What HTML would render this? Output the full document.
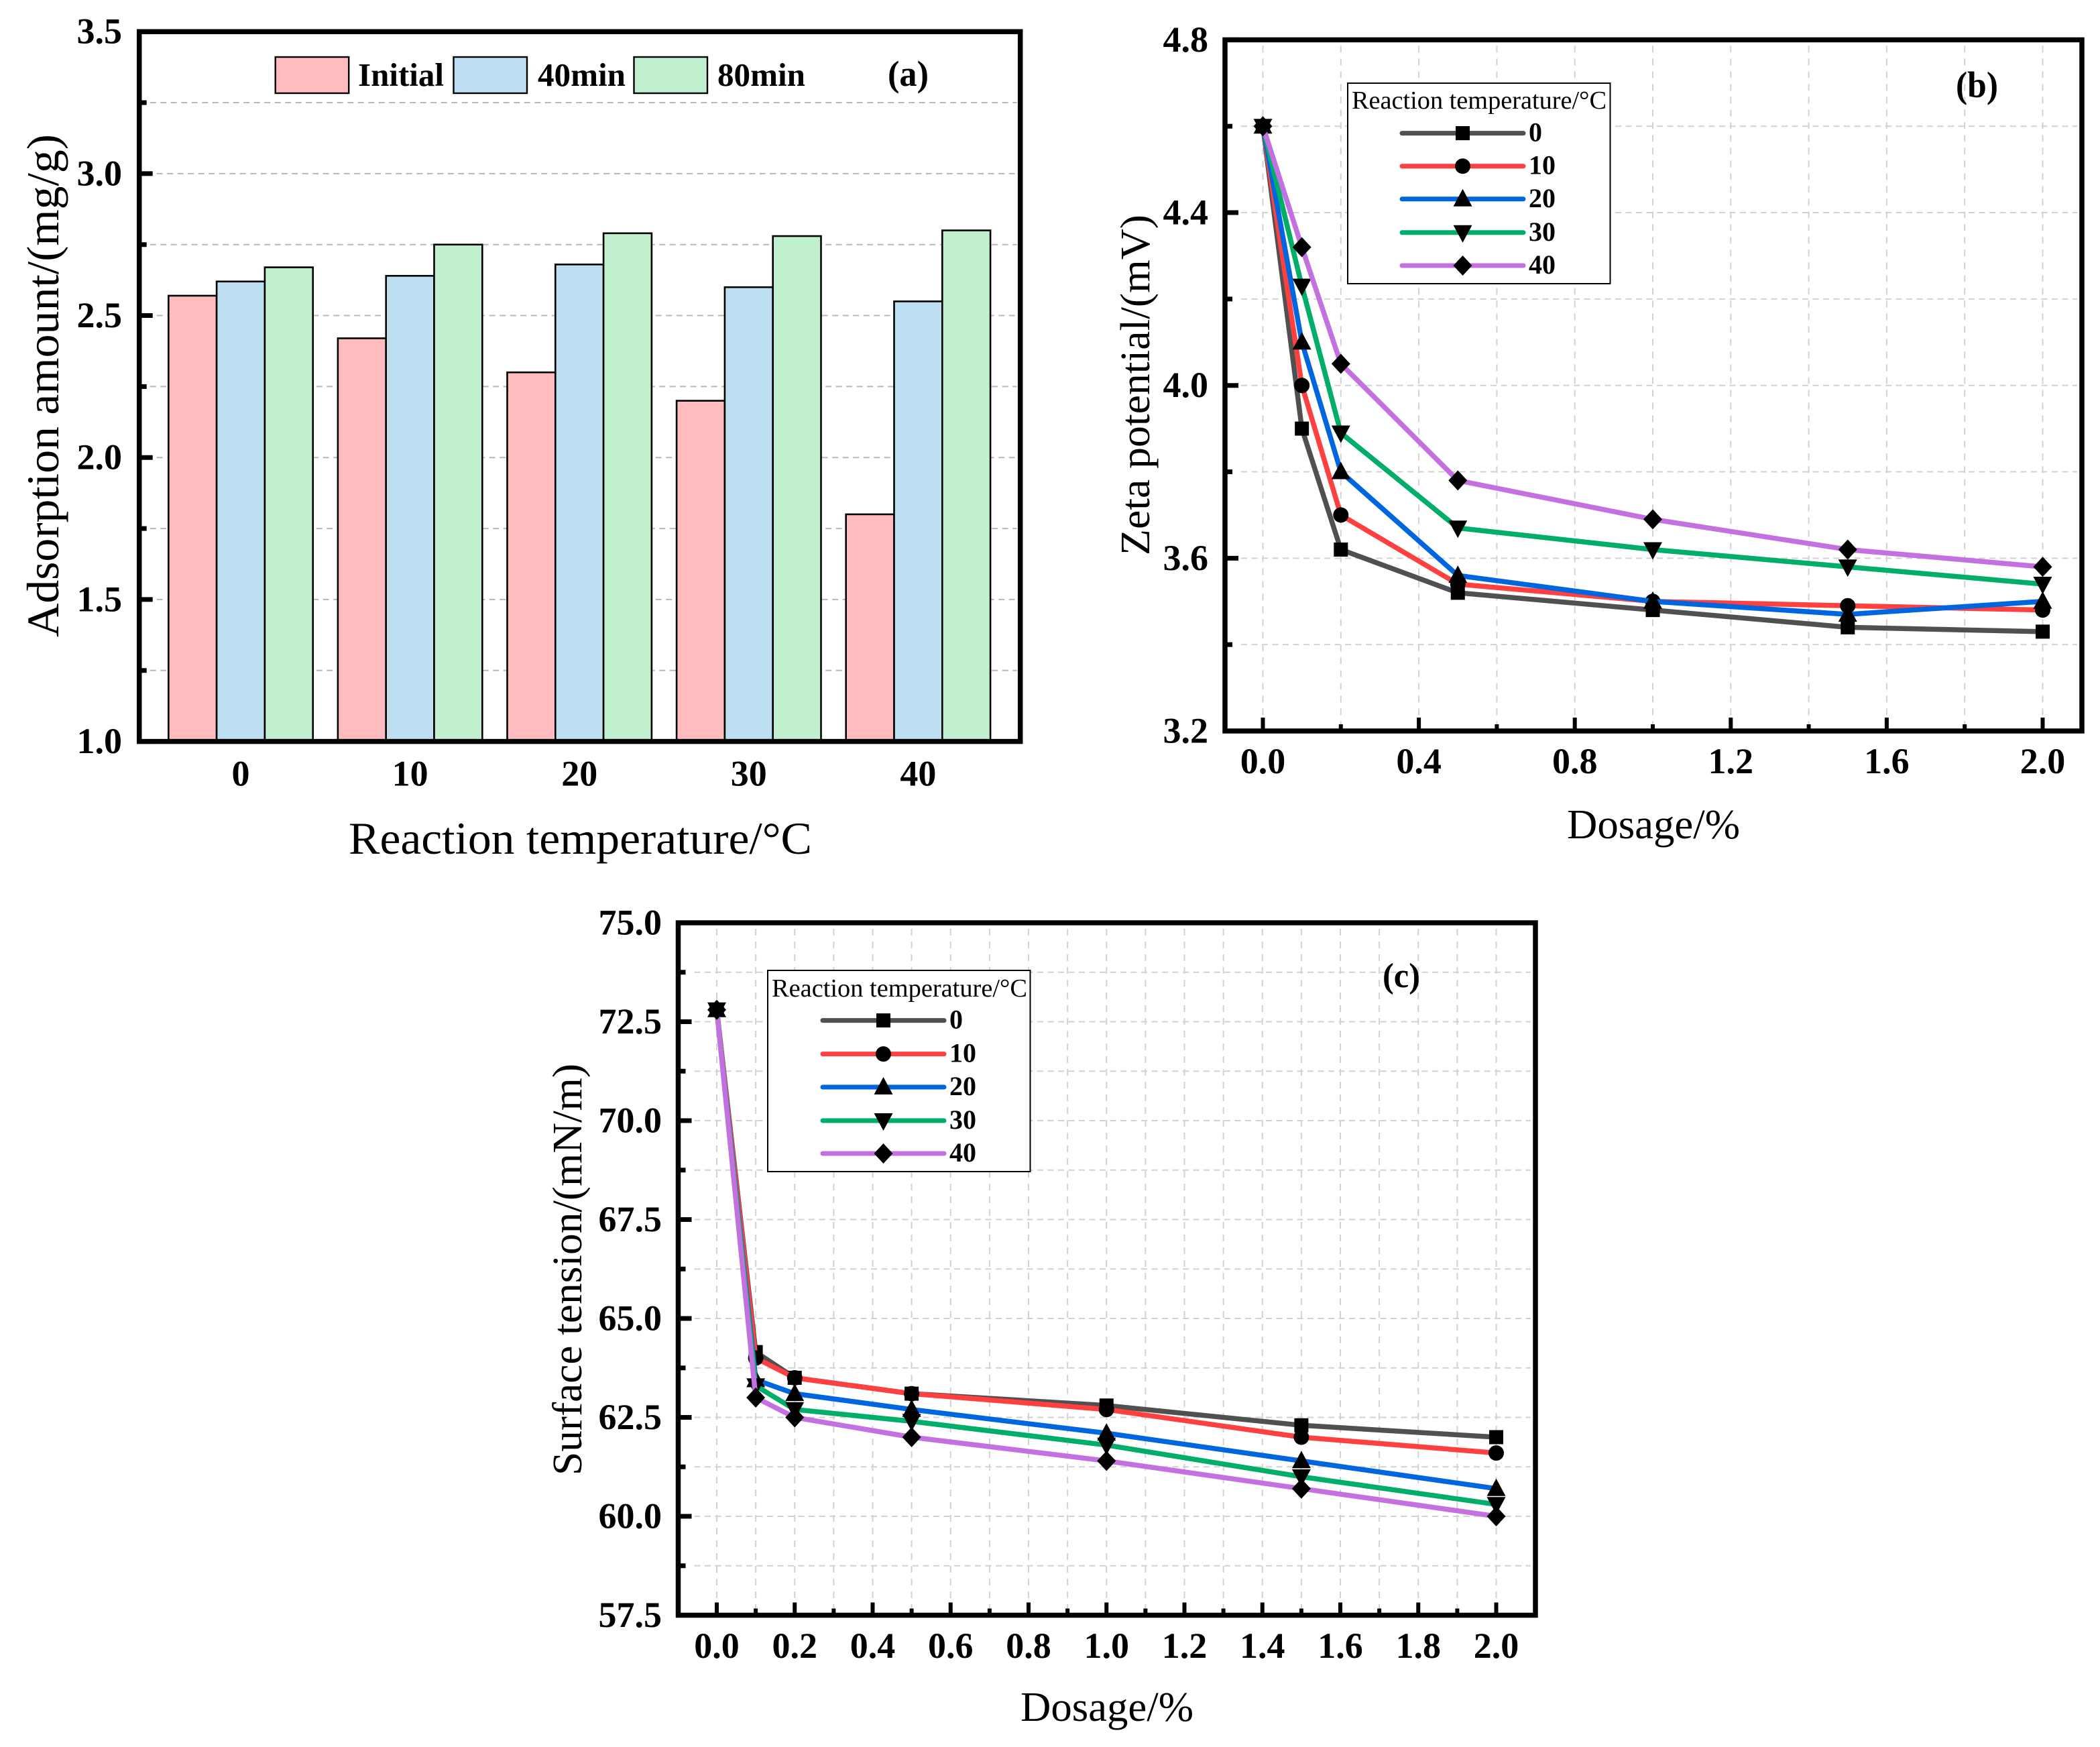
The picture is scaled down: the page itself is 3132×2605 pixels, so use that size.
<!DOCTYPE html>
<html lang="en">
<head>
<meta charset="utf-8">
<title>Adsorption, zeta potential and surface tension charts</title>
<style>
html,body{margin:0;padding:0;background:#fff;}
svg{display:block;}
text{font-family:"Liberation Serif","Noto Serif CJK SC",serif;fill:#000;}
.tick{font-size:54px;font-weight:bold;}
.title{font-size:62px;}
.bold{font-weight:bold;}
</style>
</head>
<body>
<svg id="figure" xmlns="http://www.w3.org/2000/svg" width="3132" height="2605" viewBox="0 0 3132 2605">
  <rect x="0" y="0" width="3132" height="2605" fill="#fff"/>
  <g id="panelA"></g>
  <g id="panelB"></g>
  <g id="panelC"></g>

  <text transform="translate(87,950) rotate(-90)" class="title" style="font-size:68px" textLength="750" lengthAdjust="spacingAndGlyphs">Adsorption amount/(mg/g)</text>
  <text x="520" y="1273" class="title" style="font-size:68px" textLength="691" lengthAdjust="spacingAndGlyphs">Reaction temperature/°C</text>
  <text x="534" y="128" class="bold" font-size="49" textLength="128" lengthAdjust="spacingAndGlyphs">Initial</text>
  <text x="802" y="128" class="bold" font-size="49" textLength="131" lengthAdjust="spacingAndGlyphs">40min</text>
  <text x="1070" y="128" class="bold" font-size="49" textLength="131" lengthAdjust="spacingAndGlyphs">80min</text>
  <text x="1324" y="128" class="bold" font-size="54" textLength="61" lengthAdjust="spacingAndGlyphs">(a)</text>

  <text transform="translate(1714,828) rotate(-90)" class="title" style="font-size:62px" textLength="508" lengthAdjust="spacingAndGlyphs">Zeta potential/(mV)</text>
  <text x="2337" y="1250" class="title" style="font-size:62px" textLength="258" lengthAdjust="spacingAndGlyphs">Dosage/%</text>
  <text x="2917" y="145" class="bold" font-size="55" textLength="63" lengthAdjust="spacingAndGlyphs">(b)</text>
  <text x="2016" y="162" font-size="38" textLength="380" lengthAdjust="spacingAndGlyphs">Reaction temperature/°C</text>

  <text transform="translate(867,2200) rotate(-90)" class="title" style="font-size:62px" textLength="614" lengthAdjust="spacingAndGlyphs">Surface tension/(mN/m)</text>
  <text x="1522" y="2566" class="title" style="font-size:62px" textLength="258" lengthAdjust="spacingAndGlyphs">Dosage/%</text>
  <text x="2062" y="1472" class="bold" font-size="52" textLength="56" lengthAdjust="spacingAndGlyphs">(c)</text>
  <text x="1151" y="1486" font-size="38" textLength="381" lengthAdjust="spacingAndGlyphs">Reaction temperature/°C</text>
</svg>
<script>
// ---- Panel (a) data ----
const tempCategories = ['0', '10', '20', '30', '40'];
const initialValues = [2.57, 2.42, 2.30, 2.20, 1.80];
const min40Values = [2.62, 2.64, 2.68, 2.60, 2.55];
const min80Values = [2.67, 2.75, 2.79, 2.78, 2.80];
const aMajorY = ['1.0', '1.5', '2.0', '2.5', '3.0', '3.5'];
const aMinorY = [1.25, 1.75, 2.25, 2.75, 3.25];

// ---- Shared series info ----
const dosages = [0, 0.1, 0.2, 0.5, 1.0, 1.5, 2.0];
const seriesNames = ['0', '10', '20', '30', '40'];

// ---- Panel (b) data ----
const zeta0 = [4.60, 3.90, 3.62, 3.52, 3.48, 3.44, 3.43];
const zeta10 = [4.60, 4.00, 3.70, 3.54, 3.50, 3.49, 3.48];
const zeta20 = [4.60, 4.10, 3.80, 3.56, 3.50, 3.47, 3.50];
const zeta30 = [4.60, 4.23, 3.89, 3.67, 3.62, 3.58, 3.54];
const zeta40 = [4.60, 4.32, 4.05, 3.78, 3.69, 3.62, 3.58];
const bMajorX = ['0.0', '0.4', '0.8', '1.2', '1.6', '2.0'];
const bMinorX = [0.2, 0.6, 1.0, 1.4, 1.8];
const bMajorY = ['3.2', '3.6', '4.0', '4.4', '4.8'];
const bMinorY = [3.4, 3.8, 4.2, 4.6];

// ---- Panel (c) data ----
const tension0 = [72.8, 64.15, 63.5, 63.1, 62.8, 62.3, 62.0];
const tension10 = [72.8, 64.0, 63.5, 63.1, 62.7, 62.0, 61.6];
const tension20 = [72.8, 63.45, 63.1, 62.7, 62.1, 61.4, 60.7];
const tension30 = [72.8, 63.3, 62.7, 62.4, 61.8, 61.0, 60.3];
const tension40 = [72.8, 63.0, 62.5, 62.0, 61.4, 60.7, 60.0];
const cMajorX = ['0.0', '0.2', '0.4', '0.6', '0.8', '1.0', '1.2', '1.4', '1.6', '1.8', '2.0'];
const cMinorX = [0.1, 0.3, 0.5, 0.7, 0.9, 1.1, 1.3, 1.5, 1.7, 1.9];
const cMajorY = ['57.5', '60.0', '62.5', '65.0', '67.5', '70.0', '72.5', '75.0'];
const cMinorY = [58.75, 61.25, 63.75, 66.25, 68.75, 71.25, 73.75];

const NS = 'http://www.w3.org/2000/svg';
const lineColors = ['#505050', '#FF4040', '#0066E0', '#00AE6A', '#C370E0'];
const markerKinds = ['square', 'circle', 'up', 'down', 'diamond'];
const barColors = ['#FFBCBE', '#BEDFF2', '#C0F0CE'];

function add(parent, tag, attrs, name, txt) {
  const el = document.createElementNS(NS, tag);
  for (const k in attrs) el.setAttribute(k, attrs[k]);
  
  
  if (txt !== undefined) el.textContent = txt;
  parent.appendChild(el);
  return el;
}
function linear(d0, d1, r0, r1) {
  return function (v) { return r0 + (v - d0) * (r1 - r0) / (d1 - d0); };
}
function marker(parent, kind, x, y, name) {
  if (kind === 'square') {
    add(parent, 'rect', {x: x - 10.5, y: y - 10.5, width: 21, height: 21, fill: '#000'}, name);
  } else if (kind === 'circle') {
    add(parent, 'circle', {cx: x, cy: y, r: 11.5, fill: '#000'}, name);
  } else {
    let pts;
    if (kind === 'up') pts = [[x, y - 15], [x + 14, y + 11], [x - 14, y + 11]];
    else if (kind === 'down') pts = [[x, y + 15], [x + 14, y - 11], [x - 14, y - 11]];
    else pts = [[x, y - 15], [x + 14, y], [x, y + 15], [x - 14, y]];
    add(parent, 'polygon', {points: pts.map(function (p) { return p.join(','); }).join(' '), fill: '#000'}, name);
  }
}
function hGrid(parent, yPos, x0, x1, color, name) {
  add(parent, 'line', {x1: x0, x2: x1, y1: yPos, y2: yPos, stroke: color, 'stroke-width': 2, 'stroke-dasharray': '9 6.5'}, name);
}
function vGrid(parent, xPos, y0, y1, color, name) {
  add(parent, 'line', {x1: xPos, x2: xPos, y1: y0, y2: y1, stroke: color, 'stroke-width': 2, 'stroke-dasharray': '10 9'}, name);
}
function frame(parent, L, T, R, B, name) {
  add(parent, 'rect', {x: L, y: T, width: R - L, height: B - T, fill: 'none', stroke: '#000', 'stroke-width': 7.5}, name);
}
function yTick(parent, L, yPos, len, name) {
  add(parent, 'line', {x1: L, x2: L + len, y1: yPos, y2: yPos, stroke: '#000', 'stroke-width': 7}, name);
}
function xTick(parent, xPos, B, len, name) {
  add(parent, 'line', {x1: xPos, x2: xPos, y1: B, y2: B - len, stroke: '#000', 'stroke-width': 6}, name);
}
function tickLabel(parent, x, y, anchor, txt, name) {
  add(parent, 'text', {x: x, y: y, 'text-anchor': anchor, class: 'tick'}, name, txt);
}

// ---- Panel (a) ----
(function () {
  const g = document.getElementById('panelA');
  const L = 207.7, R = 1521.7, T = 47.2, B = 1105.6;
  const y = linear(1.0, 3.5, B, T);
  const groupX = linear(0, 4, 359, 1369.4);
  const barW = 71.8;
  aMinorY.forEach(function (v) { hGrid(g, y(v), L + 16, R - 5, '#b8b8b8', 'y-gridline-minor'); });
  aMajorY.forEach(function (t) {
    if (+t > 1 && +t < 3.5) hGrid(g, y(+t), L + 26, R - 5, '#b8b8b8', 'y-gridline-major');
  });
  const series = [initialValues, min40Values, min80Values];
  series.forEach(function (vals, s) {
    vals.forEach(function (v, i) {
      const x = groupX(i) + (s - 1.5) * barW;
      add(g, 'rect', {x: x, y: y(v), width: barW, height: B - y(v), fill: barColors[s], stroke: '#000', 'stroke-width': 2.6}, 'bar-series' + s + '-' + tempCategories[i]);
    });
  });
  aMinorY.forEach(function (v) { yTick(g, L, y(v), 11, 'y-minor-tick'); });
  aMajorY.forEach(function (t) {
    yTick(g, L, y(+t), 20, 'y-major-tick');
    tickLabel(g, 182, y(+t) + 17.5, 'end', t, 'y-tick-label');
  });
  tempCategories.forEach(function (c, i) {
    tickLabel(g, groupX(i), 1171.5, 'middle', c, 'x-tick-label');
  });
  frame(g, L, T, R, B, 'plot-frame');
  const swatches = [410.7, 676.5, 945.5];
  swatches.forEach(function (sx, i) {
    add(g, 'rect', {x: sx, y: 85, width: 109.5, height: 54, fill: barColors[i], stroke: '#000', 'stroke-width': 2.4}, 'legend-swatch');
  });
})();

// ---- Line panels ----
function linePanel(cfg) {
  const g = document.getElementById(cfg.id);
  const x = linear(0, 2, cfg.x0, cfg.x2);
  const y = linear(cfg.yMin, cfg.yMax, cfg.B, cfg.T);
  const xs = cfg.minorX.concat(cfg.majorX.map(Number));
  xs.forEach(function (v) { vGrid(g, x(v), cfg.T + 9, cfg.B - 6, '#d2d2d2', 'x-gridline'); });
  const ys = cfg.minorY.concat(cfg.majorY.map(Number).filter(function (v) { return v > cfg.yMin && v < cfg.yMax; }));
  ys.forEach(function (v) { hGrid(g, y(v), cfg.L + 24, cfg.R - 7, '#d2d2d2', 'y-gridline'); });

  const lg = cfg.legend;
  add(g, 'rect', {x: lg.x, y: lg.y, width: lg.w, height: lg.h, fill: '#fff', stroke: '#000', 'stroke-width': 2}, 'legend-box');
  lg.rows.forEach(function (ry, i) {
    add(g, 'line', {x1: lg.lx0, x2: lg.lx1, y1: ry, y2: ry, stroke: lineColors[i], 'stroke-width': 7, 'stroke-linecap': 'round'}, 'legend-line-' + seriesNames[i]);
    marker(g, markerKinds[i], (lg.lx0 + lg.lx1) / 2, ry, 'legend-marker-' + seriesNames[i]);
    add(g, 'text', {x: lg.lx1 + 8, y: ry + 12, 'font-size': 40, class: 'bold'}, 'legend-label-' + seriesNames[i], seriesNames[i]);
  });

  cfg.series.forEach(function (vals, s) {
    const pts = vals.map(function (v, i) { return x(dosages[i]) + ',' + y(v); }).join(' ');
    add(g, 'polyline', {points: pts, fill: 'none', stroke: lineColors[s], 'stroke-width': 7.5, 'stroke-linejoin': 'round'}, 'series-line-' + seriesNames[s]);
    vals.forEach(function (v, i) {
      marker(g, markerKinds[s], x(dosages[i]), y(v), 'point-' + seriesNames[s] + '-' + dosages[i]);
    });
  });

  cfg.minorX.forEach(function (v) { xTick(g, x(v), cfg.B, cfg.xMinorLen, 'x-minor-tick'); });
  cfg.majorX.forEach(function (t) {
    xTick(g, x(+t), cfg.B, cfg.xMajorLen, 'x-major-tick');
    tickLabel(g, x(+t), cfg.xLabelY, 'middle', t, 'x-tick-label');
  });
  cfg.minorY.forEach(function (v) { yTick(g, cfg.L, y(v), 11, 'y-minor-tick'); });
  cfg.majorY.forEach(function (t) {
    yTick(g, cfg.L, y(+t), 20, 'y-major-tick');
    tickLabel(g, cfg.yLabelX, y(+t) + 17.5, 'end', t, 'y-tick-label');
  });
  frame(g, cfg.L, cfg.T, cfg.R, cfg.B, 'plot-frame');
}

linePanel({
  id: 'panelB', L: 1827, R: 3105, T: 59.4, B: 1090, x0: 1883.5, x2: 3046.5,
  yMin: 3.2, yMax: 4.8, majorX: bMajorX, minorX: bMinorX, majorY: bMajorY, minorY: bMinorY,
  series: [zeta0, zeta10, zeta20, zeta30, zeta40],
  xMajorLen: 20, xMinorLen: 10, xLabelY: 1153, yLabelX: 1802,
  legend: {x: 2010, y: 124, w: 391.5, h: 299, rows: [198.6, 247.7, 296.8, 346.8, 396], lx0: 2091, lx1: 2272}
});
linePanel({
  id: 'panelC', L: 1011.5, R: 2290, T: 1376, B: 2408.5, x0: 1069, x2: 2231.5,
  yMin: 57.5, yMax: 75, majorX: cMajorX, minorX: cMinorX, majorY: cMajorY, minorY: cMinorY,
  series: [tension0, tension10, tension20, tension30, tension40],
  xMajorLen: 19, xMinorLen: 10, xLabelY: 2472, yLabelX: 987,
  legend: {x: 1145, y: 1447, w: 391.5, h: 300, rows: [1521.6, 1571.6, 1621, 1671, 1720], lx0: 1227, lx1: 1408}
});
</script>
</body>
</html>
